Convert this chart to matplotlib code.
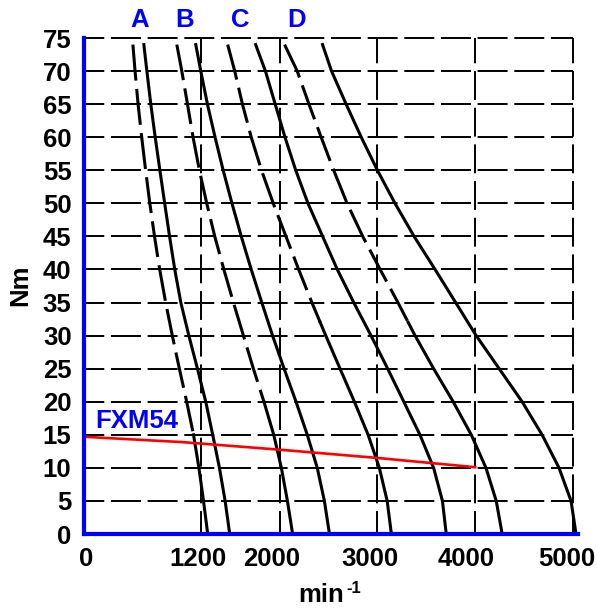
import numpy as np
import matplotlib
matplotlib.use('Agg')
import matplotlib.pyplot as plt
from matplotlib.transforms import ScaledTranslation

# ---------------- data ----------------
torque = [74, 70, 65, 60, 55, 50, 45, 40, 35, 30, 25, 20, 15, 10, 5, 0]

A_dashed = [500, 522, 553, 590, 630, 673, 721, 774, 835, 903, 975, 1050, 1120, 1175, 1222, 1265]
A_solid = [612, 643, 683, 728, 776, 825, 875, 928, 990, 1072, 1160, 1245, 1316, 1385, 1443, 1490]
B_dashed = [949, 1000, 1058, 1115, 1180, 1255, 1337, 1430, 1528, 1630, 1732, 1840, 1940, 2018, 2080, 2133]
B_solid = [1143, 1194, 1262, 1340, 1423, 1513, 1608, 1710, 1818, 1928, 2046, 2168, 2283, 2385, 2458, 2510]
C_dashed = [1469, 1541, 1620, 1710, 1815, 1935, 2065, 2195, 2330, 2472, 2618, 2765, 2905, 3020, 3100, 3143]
C_solid = [1755, 1855, 1955, 2055, 2165, 2290, 2440, 2590, 2758, 2935, 3105, 3270, 3435, 3575, 3665, 3704]
D_dashed = [2051, 2180, 2300, 2425, 2553, 2690, 2850, 3028, 3210, 3385, 3575, 3775, 3960, 4110, 4215, 4276]
D_solid = [2439, 2531, 2680, 2835, 3000, 3180, 3375, 3590, 3800, 4010, 4245, 4480, 4684, 4857, 4980, 5031]

dashed_curves = [A_dashed, B_dashed, C_dashed, D_dashed]
solid_curves = [A_solid, B_solid, C_solid, D_solid]
dash_switch = [15, 20, 32, 32]   # torque below which the dashed curve continues solid

red_speed = [0, 1000, 2000, 3000, 4000]
red_torque = [14.7, 13.9, 12.75, 11.5, 10.1]

curve_letters = ['A', 'B', 'C', 'D']
motor_name = 'FXM54'
x_ticks = [0, 1200, 2000, 3000, 4000, 5000]
y_ticks = list(range(0, 80, 5))

# ---------------- layout / style ----------------
plt.rcParams['font.family'] = ['Liberation Sans', 'DejaVu Sans']
plt.rcParams['font.weight'] = 'bold'
plt.rcParams['lines.scale_dashes'] = False

W, H = 597, 609
fig = plt.figure(figsize=(W / 100, H / 100), dpi=100)
x_max = 5050
ax = fig.add_axes([84 / W, 75 / H, x_max * 0.0978 / W, 496 / H])
ax.set_xlim(0, x_max)
ax.set_ylim(0, 75)

blue = '#0000ff'
for s in ['top', 'right']:
    ax.spines[s].set_visible(False)
for s in ['left', 'bottom']:
    ax.spines[s].set_color(blue)
    ax.spines[s].set_linewidth(3)
    ax.spines[s].set_zorder(5)

fs = 18.5
ax.set_xticks(x_ticks)
ax.set_xticklabels([str(v) for v in x_ticks])
ax.set_yticks(y_ticks)
ax.set_yticklabels([str(v) for v in y_ticks])
ax.tick_params(axis='both', length=0, labelsize=fs)
ax.tick_params(axis='y', pad=9.0)
ax.tick_params(axis='x', pad=9.5)
for lab in ax.get_xticklabels() + ax.get_yticklabels():
    lab.set_fontweight('bold')
xlab_offsets_px = [2, -3.5, -8, -7.5, -9.5, -6.5]
for lab, dx in zip(ax.get_xticklabels(), xlab_offsets_px):
    lab.set_transform(lab.get_transform() + ScaledTranslation(dx / 100, 0, fig.dpi_scale_trans))

# grid lines
for yv in y_ticks[1:]:
    ax.plot([0, 5000], [yv, yv], color='black', lw=1.4, zorder=1, clip_on=False,
            linestyle=(7.0, (21.6, 4.8)))
for xv in x_ticks[1:]:
    ax.plot([xv, xv], [75, 0], color='black', lw=1.4, zorder=1, clip_on=False,
            linestyle=(2.6, (20.8, 5.6)))

# curves
tq = np.array(torque, dtype=float)
for spd, sw in zip(dashed_curves, dash_switch):
    spd = np.array(spd, dtype=float)
    nsw = np.interp(sw, tq[::-1], spd[::-1])
    up = tq > sw
    lo = tq < sw
    xs_d = np.concatenate([spd[up], [nsw]])
    ys_d = np.concatenate([tq[up], [sw]])
    xs_s = np.concatenate([[nsw], spd[lo]])
    ys_s = np.concatenate([[sw], tq[lo]])
    ax.plot(xs_d, ys_d, color='black', lw=2.2, zorder=2, clip_on=False,
            linestyle=(0, (26, 6)), dash_capstyle='butt', solid_joinstyle='round')
    ax.plot(xs_s, ys_s, color='black', lw=2.2, zorder=2, clip_on=False,
            solid_joinstyle='round')
for spd in solid_curves:
    ax.plot(spd, torque, color='black', lw=2.2, zorder=2, clip_on=False,
            solid_joinstyle='round')

ax.plot(red_speed, red_torque, color='#ff0000', lw=1.9, zorder=3, clip_on=False)

# labels
letter_x = [573, 1033, 1600, 2172]
for lx, t in zip(letter_x, curve_letters):
    ax.text(lx, 76.7, t, color=blue, fontsize=fs, fontweight='bold',
            ha='center', va='baseline', clip_on=False)
ax.text(115, 16.0, motor_name, color=blue, fontsize=fs, fontweight='bold',
        ha='left', va='baseline')

fig.text(20 / W, 1 - 285 / H, 'Nm', rotation=90, ha='center', va='center',
         fontsize=fs, fontweight='bold')
fig.text(298 / W, 1 - 602 / H, 'min', ha='left', va='baseline',
         fontsize=fs, fontweight='bold')
fig.text(346 / W, 1 - 593 / H, '-1', ha='left', va='baseline',
         fontsize=12, fontweight='bold')

fig.savefig('out.png', dpi=100)
